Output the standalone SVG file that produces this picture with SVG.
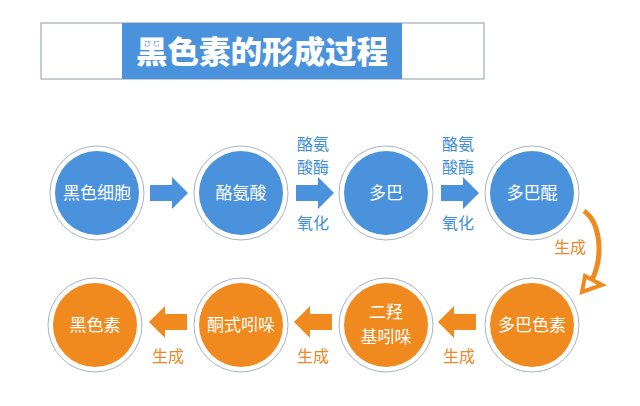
<svg xmlns="http://www.w3.org/2000/svg" width="640" height="406" viewBox="0 0 640 406">
<style>
.ring{fill:#fff;stroke:#a9b4c0;stroke-width:1}
.b{fill:#4a92dc}.o{fill:#f08a1e}
.t{font-family:"Noto Sans CJK SC",sans-serif;font-size:17px;fill:#fff;text-anchor:middle}
.lb{font-family:"Noto Sans CJK SC",sans-serif;font-size:16px;fill:#3f8fd8;text-anchor:middle}
.lo{font-family:"Noto Sans CJK SC",sans-serif;font-size:16px;fill:#e8892a;text-anchor:middle}
</style>
<rect width="640" height="406" fill="#fff"/>
<g id="title">
<rect x="41" y="23" width="443" height="56" fill="#fff" stroke="#8a9bab" stroke-width="1"/>
<rect x="122" y="23" width="280" height="56" fill="#4a92dc"/>
<text x="262" y="63" font-family="Noto Sans CJK SC,sans-serif" font-weight="900" font-size="31" fill="#fff" text-anchor="middle" textLength="252" lengthAdjust="spacingAndGlyphs">黑色素的形成过程</text>
</g>
<g id="n1"><circle class="ring" cx="97" cy="193" r="47"/><circle class="b" cx="97" cy="193" r="42"/><text class="t" x="97" y="199">黑色细胞</text></g>
<g id="n2"><circle class="ring" cx="241" cy="193" r="47"/><circle class="b" cx="241" cy="193" r="42"/><text class="t" x="241" y="199">酪氨酸</text></g>
<g id="n3"><circle class="ring" cx="386" cy="193" r="47"/><circle class="b" cx="386" cy="193" r="42"/><text class="t" x="386" y="199">多巴</text></g>
<g id="n4"><circle class="ring" cx="532" cy="193" r="47"/><circle class="b" cx="532" cy="193" r="42"/><text class="t" x="532" y="199">多巴醌</text></g>
<g id="n5"><circle class="ring" cx="532" cy="325" r="47"/><circle class="o" cx="532" cy="325" r="42"/><text class="t" x="532" y="331">多巴色素</text></g>
<g id="n6"><circle class="ring" cx="386" cy="325" r="47"/><circle class="o" cx="386" cy="325" r="42"/><text class="t" x="386" y="318">二羟</text><text class="t" x="386" y="343">基吲哚</text></g>
<g id="n7"><circle class="ring" cx="241" cy="325" r="47"/><circle class="o" cx="241" cy="325" r="42"/><text class="t" x="241" y="331">酮式吲哚</text></g>
<g id="n8"><circle class="ring" cx="95" cy="325" r="47"/><circle class="o" cx="95" cy="325" r="42"/><text class="t" x="95" y="331">黑色素</text></g>
<g id="connectors">
<polygon class="b" points="150,185 172,185 172,177 188,193 172,209 172,201 150,201"/>
<polygon class="b" points="296,185 318,185 318,177 334,193 318,209 318,201 296,201"/>
<polygon class="b" points="441,185 463,185 463,177 479,193 463,209 463,201 441,201"/>
<polygon class="o" points="476,314 454,314 454,306 438,322 454,338 454,330 476,330"/>
<polygon class="o" points="332,314 310,314 310,306 294,322 310,338 310,330 332,330"/>
<polygon class="o" points="187,314 165,314 165,306 149,322 165,338 165,330 187,330"/>
<path d="M584,211 C600,222 604,255 592,280" fill="none" stroke="#f08a1e" stroke-width="5"/>
<polygon points="582,292 585,276 602,285" fill="#fff" stroke="#f08a1e" stroke-width="4" stroke-linejoin="miter"/>
<text class="lb" x="313" y="150">酪氨</text><text class="lb" x="313" y="173">酸酶</text><text class="lb" x="313" y="229">氧化</text>
<text class="lb" x="458" y="150">酪氨</text><text class="lb" x="458" y="173">酸酶</text><text class="lb" x="458" y="229">氧化</text>
<text class="lo" x="570" y="253">生成</text>
<text class="lo" x="459" y="362">生成</text>
<text class="lo" x="313" y="362">生成</text>
<text class="lo" x="168" y="362">生成</text>
</g>
</svg>
